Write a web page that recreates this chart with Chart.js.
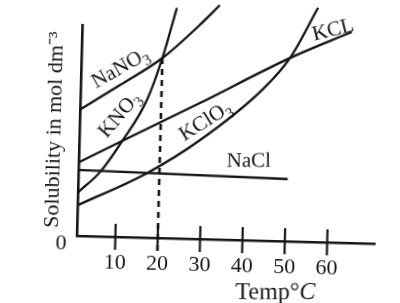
<!DOCTYPE html>
<html><head><meta charset="utf-8">
<script src="https://cdn.jsdelivr.net/npm/chart.js@4/dist/chart.umd.min.js"></script>
<style>
html,body{margin:0;padding:0;background:#fff;overflow:hidden;width:400px;height:303px}
#wrap{width:400px;height:303px;transform:rotate(1.5deg);transform-origin:200px 151px;background:#fff}
</style></head><body>
<div id="wrap"><canvas id="c" width="400" height="303"></canvas></div>
<script>
// Temperature ticks (°C)
const xTicks = [10, 20, 30, 40, 50, 60];
// Solubility curves: [temperature, solubility]
const naNO3  = [[1, 6.0], [10.2, 7.2], [20, 8.53], [28.6, 10.14], [33.2, 11.1]];
const kNO3   = [[1, 2.08], [6, 3.05], [11.2, 4.6], [16.6, 6.52], [20, 8.53], [23.1, 10.92]];
const kCl    = [[1, 3.5], [29, 6.43], [50, 8.68], [64.5, 10.0]];
const naCl   = [[1, 3.12], [50.3, 2.95]];
const kClO3  = [[1, 1.46], [17.1, 3.06], [29.4, 4.69], [43.7, 7.14], [50.1, 8.69], [56.4, 11.1]];
// dashed guide at 20 °C
const guide  = [[20, 8.53], [20, -0.6]];

const INK = '#151515';
const FONT = 'Liberation Serif, Times New Roman, serif';

function pts(a){ return a.map(p => ({x: p[0], y: p[1]})); }
function curve(data){
  return {data: pts(data), showLine: true, borderColor: INK, borderWidth: 2.3,
          pointRadius: 0, cubicInterpolationMode: 'monotone', clip: false, fill: false};
}

// curve labels anchored in data coordinates
const notes = [
  {main: 'NaNO', sub: '3', t: 10.0, v: 8.05, angle: -31},
  {main: 'KNO',  sub: '3', t: 10.0, v: 5.82, angle: -51},
  {main: 'KClO', sub: '3', t: 30.4, v: 5.64, angle: -33.5},
  {main: 'NaCl', sub: '',  t: 41.0, v: 3.81, angle: -1.5},
  {main: 'KCL',  sub: '',  t: 60.0, v: 10.12, angle: -15.5}
];

const annot = {
  id: 'annot',
  afterDatasetsDraw(chart){
    const {ctx, scales: {x, y}} = chart;
    const y0 = y.getPixelForValue(0);
    ctx.save();
    ctx.strokeStyle = INK; ctx.lineWidth = 2.2;
    xTicks.forEach(v => {
      const px = x.getPixelForValue(v);
      ctx.beginPath(); ctx.moveTo(px, y0 - 13); ctx.lineTo(px, y0 + 13); ctx.stroke();
    });
    ctx.fillStyle = INK;
    notes.forEach(n => {
      const px = x.getPixelForValue(n.t), py = y.getPixelForValue(n.v);
      ctx.save();
      ctx.translate(px, py);
      ctx.rotate(n.angle * Math.PI / 180);
      ctx.font = '21px ' + FONT;
      const w1 = ctx.measureText(n.main).width;
      ctx.font = '15px ' + FONT;
      const w2 = n.sub ? ctx.measureText(n.sub).width : 0;
      const w = w1 + w2;
      ctx.textBaseline = 'alphabetic'; ctx.textAlign = 'left';
      ctx.font = '21px ' + FONT;
      ctx.fillText(n.main, -w / 2, 7);
      if (n.sub){ ctx.font = '15px ' + FONT; ctx.fillText(n.sub, -w / 2 + w1, 12); }
      ctx.restore();
    });
    // x-axis title: Temp°C (C in italics)
    const tx = x.getPixelForValue(48.1), ty = x.bottom - 14;
    ctx.save();
    ctx.translate(tx, ty); ctx.rotate(-1.5 * Math.PI / 180);
    ctx.font = '24px ' + FONT;
    const a = 'Temp°';
    const wa = ctx.measureText(a).width;
    ctx.font = 'italic 24px ' + FONT;
    const wb = ctx.measureText('C').width;
    ctx.textBaseline = 'alphabetic'; ctx.textAlign = 'left';
    ctx.font = '24px ' + FONT;
    ctx.fillText(a, -(wa + wb) / 2, 8);
    ctx.font = 'italic 24px ' + FONT;
    ctx.fillText('C', -(wa + wb) / 2 + wa, 8);
    ctx.restore();
    ctx.restore();
  }
};

new Chart(document.getElementById('c'), {
  type: 'scatter',
  data: {datasets: [
    curve(naNO3), curve(kNO3), curve(kCl), curve(naCl), curve(kClO3),
    Object.assign(curve(guide), {borderDash: [6, 5], borderWidth: 2.6, cubicInterpolationMode: 'default', tension: 0})
  ]},
  options: {
    responsive: false, animation: false,
    layout: {padding: {left: 41, top: 28, right: 23, bottom: 0}},
    plugins: {legend: {display: false}, tooltip: {enabled: false}},
    scales: {
      x: {
        type: 'linear', min: 1, max: 71.2,
        afterBuildTicks: s => { s.ticks = xTicks.map(v => ({value: v})); },
        afterFit: s => { s.height = 64; },
        grid: {drawOnChartArea: false, drawTicks: false},
        border: {color: INK, width: 2.6},
        ticks: {padding: 13, color: INK, autoSkip: false, maxRotation: 0,
                font: {family: FONT, size: 22}}
      },
      y: {
        type: 'linear', min: 0, max: 10,
        afterBuildTicks: s => { s.ticks = [{value: 0}]; },
        afterFit: s => { s.width = 38.5; },
        grid: {drawOnChartArea: false, drawTicks: false},
        border: {color: INK, width: 2.6},
        ticks: {padding: 10.5, labelOffset: 8, color: INK, font: {family: FONT, size: 22}},
        title: {display: true, text: 'Solubility in mol dm⁻³', align: 'center', color: INK,
                padding: 0, font: {family: FONT, size: 22}}
      }
    }
  },
  plugins: [annot]
});
</script>
</body></html>
